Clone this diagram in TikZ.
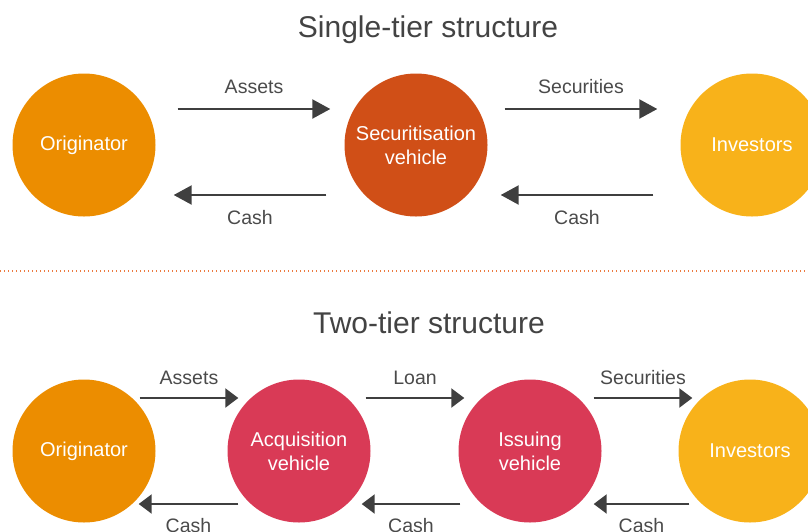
\documentclass[tikz,border=0pt]{standalone}
\usepackage{xcolor}
\usepackage{fontspec}
\setmainfont{Liberation Sans}
\usepackage{tikz}
\usetikzlibrary{positioning}
\usetikzlibrary{arrows.meta}

\definecolor{origcol}{HTML}{EC8D00}
\definecolor{svcol}{HTML}{D04F17}
\definecolor{invcol}{HTML}{F8B21A}
\definecolor{vehcol}{HTML}{D93A56}
\definecolor{arrcol}{HTML}{3F3F3F}
\definecolor{txtcol}{HTML}{4A4A4A}
\definecolor{dotcol}{HTML}{EC7A40}

\begin{document}
\begin{tikzpicture}[x=1pt,y=-1pt,
	bubble/.style={circle,minimum size=143pt,inner sep=0pt,text=white,font=\fontsize{20}{24}\selectfont,align=center},
	flow/.style={draw=arrcol,line width=2.2pt,-{Triangle[length=18pt,width=19pt]}},
	flowb/.style={draw=arrcol,line width=2.2pt,-{Triangle[length=13pt,width=19pt]}},
	lbl/.style={text=txtcol,font=\fontsize{19.5}{23}\selectfont,inner sep=0pt},
	title/.style={text=txtcol!90!black,font=\fontsize{30}{36}\selectfont}]
	\useasboundingbox (0,0) rectangle (808,531);
	% single-tier
	\node (T1) [title] at (428,30) {Single-tier structure};
	\node (O1) [bubble,fill=origcol] at (84,145) {Originator};
	\node (S1) [bubble,fill=svcol] at (416,145) {Securitisation\\vehicle};
	\node (I1) [bubble,fill=invcol] at (752,145) {Investors};
	\draw[flow] ([shift={(22,-36)}]O1.east) -- node[lbl,above=14pt] (a1) {Assets} ([shift={(-14,-36)}]S1.west);
	\draw[flow] ([shift={(-18,50)}]S1.west) -- node[lbl,below=14pt] (c1) {Cash} ([shift={(18,50)}]O1.east);
	\draw[flow] ([shift={(17,-36)}]S1.east) -- node[lbl,above=14pt] (s1) {Securities} ([shift={(-23,-36)}]I1.west);
	\draw[flow] ([shift={(-27,50)}]I1.west) -- node[lbl,below=14pt] (c2) {Cash} ([shift={(13,50)}]S1.east);
	% separator
	\draw[dotcol,line width=1.3pt,dash pattern=on 1.3pt off 2.7pt] (0,271) -- (808,271);
	% two-tier
	\node (T2) [title] at (429,323) {Two-tier structure};
	\node (O2) [bubble,fill=origcol] at (84,451) {Originator};
	\node (A2) [bubble,fill=vehcol] at (299,451) {Acquisition\\vehicle};
	\node (V2) [bubble,fill=vehcol] at (530,451) {Issuing\\vehicle};
	\node (I2) [bubble,fill=invcol] at (750,451) {Investors};
	\draw[flowb] ([shift={(-16,-53)}]O2.east) -- node[lbl,above=12pt] (a2) {Assets} ([shift={(11,-53)}]A2.west);
	\draw[flowb] ([shift={(11,53)}]A2.west) -- node[lbl,below=13pt] (c3) {Cash} ([shift={(-17,53)}]O2.east);
	\draw[flowb] ([shift={(-5,-53)}]A2.east) -- node[lbl,above=12pt] (l2) {Loan} ([shift={(6,-53)}]V2.west);
	\draw[flowb] ([shift={(2,53)}]V2.west) -- node[lbl,below=13pt] (c4) {Cash} ([shift={(-9,53)}]A2.east);
	\draw[flowb] ([shift={(-8,-53)}]V2.east) -- node[lbl,above=12pt] (s2) {Securities} ([shift={(14,-53)}]I2.west);
	\draw[flowb] ([shift={(11,53)}]I2.west) -- node[lbl,below=13pt] (c5) {Cash} ([shift={(-8,53)}]V2.east);
\end{tikzpicture}
\end{document}
